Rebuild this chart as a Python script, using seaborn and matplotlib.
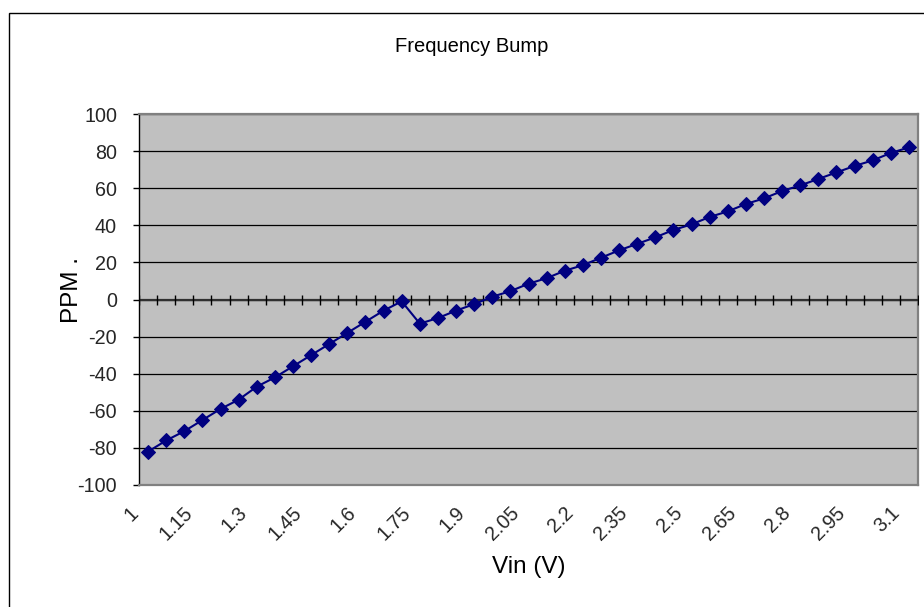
import matplotlib
matplotlib.use("Agg")
import matplotlib.pyplot as plt
from matplotlib.patches import Rectangle
from matplotlib.transforms import ScaledTranslation
import numpy as np
import pandas as pd
import seaborn as sns

# ---- data ----
vin = ["1.00", "1.05", "1.10", "1.15", "1.20", "1.25", "1.30", "1.35", "1.40", "1.45",
       "1.50", "1.55", "1.60", "1.65", "1.70", "1.75", "1.80", "1.85", "1.90", "1.95",
       "2.00", "2.05", "2.10", "2.15", "2.20", "2.25", "2.30", "2.35", "2.40", "2.45",
       "2.50", "2.55", "2.60", "2.65", "2.70", "2.75", "2.80", "2.85", "2.90", "2.95",
       "3.00", "3.05", "3.10"]
ppm = [-82, -76, -71, -65, -59, -54, -47, -42, -36, -30,
       -24, -18, -12, -6, -1, -13, -10, -6, -2.5, 1.5,
       4.5, 8.5, 11.5, 15.5, 18.5, 22.5, 26.5, 30, 33.5, 37.5,
       40.5, 44.5, 47.5, 51.5, 54.5, 58.5, 61.5, 65, 68.5, 72,
       75, 79, 82]
xtick_labels = ["1", "1.15", "1.3", "1.45", "1.6", "1.75", "1.9", "2.05", "2.2",
                "2.35", "2.5", "2.65", "2.8", "2.95", "3.1"]
yticks = [-100, -80, -60, -40, -20, 0, 20, 40, 60, 80, 100]

df = pd.DataFrame({"Vin": vin, "PPM": ppm})

sns.set_style("white")
plt.rcParams["font.family"] = ["Liberation Sans", "DejaVu Sans"]

W, H, DPI = 924, 607, 100
fig = plt.figure(figsize=(W / DPI, H / DPI), dpi=DPI, facecolor="white")
ax = fig.add_axes([139 / W, 1 - 485 / H, (918 - 139) / W, (485 - 114) / H])
ax.set_facecolor("#C0C0C0")

# gridlines
ax.set_ylim(-100, 100)
ax.set_yticks(yticks)
ax.grid(axis="y", color="black", lw=0.9)
ax.grid(axis="x", visible=False)
ax.set_axisbelow(True)

# series
sns.lineplot(data=df, x="Vin", y="PPM", sort=False, ax=ax, color="#000080",
             lw=1.5, marker="D", markersize=6.8, markeredgecolor="#000080",
             zorder=5)

n = len(vin)
ax.set_xlim(-0.5, n - 0.5)

# horizontal category axis crossing at zero with boundary ticks
ax.axhline(0, color="#303030", lw=1.6, zorder=3)
bounds = np.arange(n + 1) - 0.5
ax.plot(bounds, np.zeros_like(bounds), ls="none", marker="|", ms=7,
        mew=1.0, color="black", zorder=4)

# tick labels
ax.set_xticks(range(0, n, 3))
ax.set_xticklabels(xtick_labels, rotation=45, ha="right", va="center",
                   rotation_mode="anchor", fontsize=14.2)
ax.tick_params(axis="x", length=0, pad=18)
for lab in ax.get_xticklabels():
    lab.set_transform(lab.get_transform() + ScaledTranslation(-9 / 72, 0, fig.dpi_scale_trans))
ax.set_yticklabels([str(v) for v in yticks], fontsize=14.2)
ax.tick_params(axis="y", direction="out", length=4.3, width=1, color="black",
               pad=11.5, left=True)

# spines
ax.spines["left"].set_color("black")
ax.spines["left"].set_linewidth(1)
for s in ["top", "right", "bottom"]:
    ax.spines[s].set_color("#808080")
    ax.spines[s].set_linewidth(1.6)

ax.set_xlabel("")
ax.set_ylabel("")

# titles
fig.text(472 / W, 1 - 46 / H, "Frequency Bump", ha="center", va="center",
         fontsize=14.5, color="black")
fig.text(529 / W, 1 - 567 / H, "Vin (V)", ha="center", va="center",
         fontsize=17.5, color="black")
fig.text(72 / W, 1 - 290 / H, "PPM .", ha="center", va="center",
         rotation=90, fontsize=17.5, color="black")

# outer chart border (clipped at right and bottom)
fig.patches.append(Rectangle((8.5 / W, -0.1), 2, 1.1 - 13 / H,
                             transform=fig.transFigure, fill=False,
                             ec="black", lw=1))

fig.savefig("out.png", dpi=DPI, facecolor="white")
